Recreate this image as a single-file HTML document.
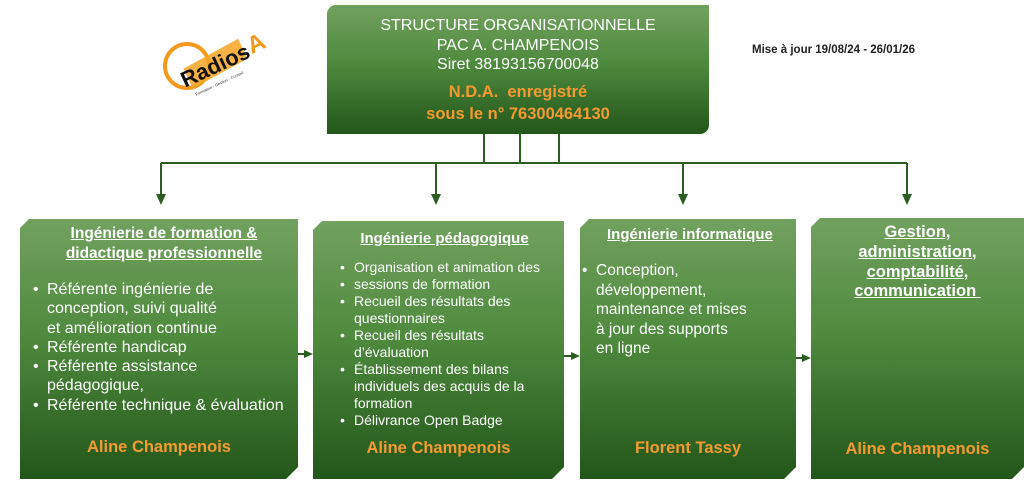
<!DOCTYPE html>
<html><head><meta charset="utf-8">
<style>
body{margin:0;width:1024px;height:480px;background:#fff;position:relative;overflow:hidden;font-family:"Liberation Sans",Arial,sans-serif;}
.b{position:absolute;background:linear-gradient(#72a15f,#4f8a3e 45%,#23561a);color:#fff;}
.clip{clip-path:polygon(9px 0,100% 0,100% calc(100% - 12px),calc(100% - 12px) 100%,0 100%,0 9px);}
.t{position:absolute;left:0;right:0;text-align:center;}
.h{font-weight:bold;text-decoration:underline;}
.o{color:#f39a32;font-weight:bold;font-size:16.5px;}
ul{position:absolute;margin:0;padding-left:0;list-style:none;}
li{position:relative;padding-left:0;}
li:before{content:"•";position:absolute;left:-14px;}
</style></head><body>
<svg width="1024" height="480" style="position:absolute;left:0;top:0" >
<g stroke="#2c5e22" stroke-width="2" fill="none">
<path d="M484 134V163M520 134V163M559 134V163M161 163H907M161 163V200M436 163V200M683 163V200M907 163V200"/>
<path d="M298 354H310M564 356H577M796 358H808"/>
</g>
<g fill="#2c5e22">
<path d="M156 194L161 205L166 194Z"/><path d="M431 194L436 205L441 194Z"/><path d="M678 194L683 205L688 194Z"/><path d="M902 194L907 205L912 194Z"/>
<path d="M304 350L313 354L304 358Z"/><path d="M571 352L580 356L571 360Z"/><path d="M802 354L811 358L802 362Z"/>
</g>
<circle cx="187" cy="66" r="22" fill="none" stroke="#f39a1e" stroke-width="4"/>
<g transform="translate(215,65) rotate(-25)">
<path d="M-30 -10L32 -14L32 8L-30 12Z" fill="#f5a623" opacity=".85"/>
<text x="0" y="8" text-anchor="middle" font-family="Liberation Sans" font-weight="bold" font-size="22" fill="#111">Radios</text>
<text x="-4" y="20" text-anchor="middle" font-family="Liberation Sans" font-size="4" fill="#333">Formation · Gestion · Conseil</text>
</g>
<text x="248" y="52" font-family="Liberation Sans" font-weight="bold" font-size="24" fill="#f39a1e" transform="rotate(-25 255 45)">A</text>
</svg>
<div style="position:absolute;left:752px;top:44px;font-size:11.5px;font-weight:bold;color:#222">Mise à jour 19/08/24 - 26/01/26</div>

<div class="b" style="left:327px;top:5px;width:382px;height:129px;border-radius:9px 0 9px 0;">
<div class="t" style="top:11px;font-size:16px;line-height:19.5px">STRUCTURE ORGANISATIONNELLE<br>PAC A. CHAMPENOIS<br>Siret 38193156700048</div>
<div class="t o" style="top:76px;line-height:22px">N.D.A.&nbsp; enregistré<br>sous le n° 76300464130</div>
</div>

<div class="b clip" style="left:20px;top:219px;width:278px;height:260px;">
<div class="t h" style="top:5px;font-size:15.5px;line-height:19.5px;left:10px">Ingénierie de formation &amp;<br>didactique professionnelle</div>
<ul style="left:27px;top:61px;font-size:16px;line-height:19.3px">
<li>Référente ingénierie de<br>conception, suivi qualité<br>et amélioration continue</li>
<li>Référente handicap</li><li>Référente assistance<br>pédagogique,</li><li>Référente technique &amp; évaluation</li></ul>
<div class="t o" style="top:219px">Aline Champenois</div>
</div>

<div class="b clip" style="left:313px;top:221px;width:251px;height:258px;">
<div class="t h" style="top:9px;font-size:15px;left:12px">Ingénierie pédagogique</div>
<ul style="left:41px;top:38px;font-size:14px;line-height:17px">
<li>Organisation et animation des</li><li>sessions de formation</li><li>Recueil des résultats des<br>questionnaires</li><li>Recueil des résultats<br>d’évaluation</li><li>Établissement des bilans<br>individuels des acquis de la<br>formation</li><li>Délivrance Open Badge</li></ul>
<div class="t o" style="top:218px">Aline Champenois</div>
</div>

<div class="b clip" style="left:580px;top:219px;width:216px;height:260px;">
<div class="t h" style="top:7px;font-size:15px;left:27px;text-align:left">Ingénierie informatique</div>
<ul style="left:16px;top:42px;font-size:15.5px;line-height:19.5px">
<li>Conception,<br>développement,<br>maintenance et mises<br>à jour des supports<br>en ligne</li></ul>
<div class="t o" style="top:220px">Florent Tassy</div>
</div>

<div class="b clip" style="left:811px;top:218px;width:213px;height:261px;">
<div class="t h" style="top:5px;font-size:16.5px;line-height:19.8px">Gestion,<br>administration,<br>comptabilité,<br>communication&nbsp;</div>
<div class="t o" style="top:222px">Aline Champenois</div>
</div>
</body></html>
